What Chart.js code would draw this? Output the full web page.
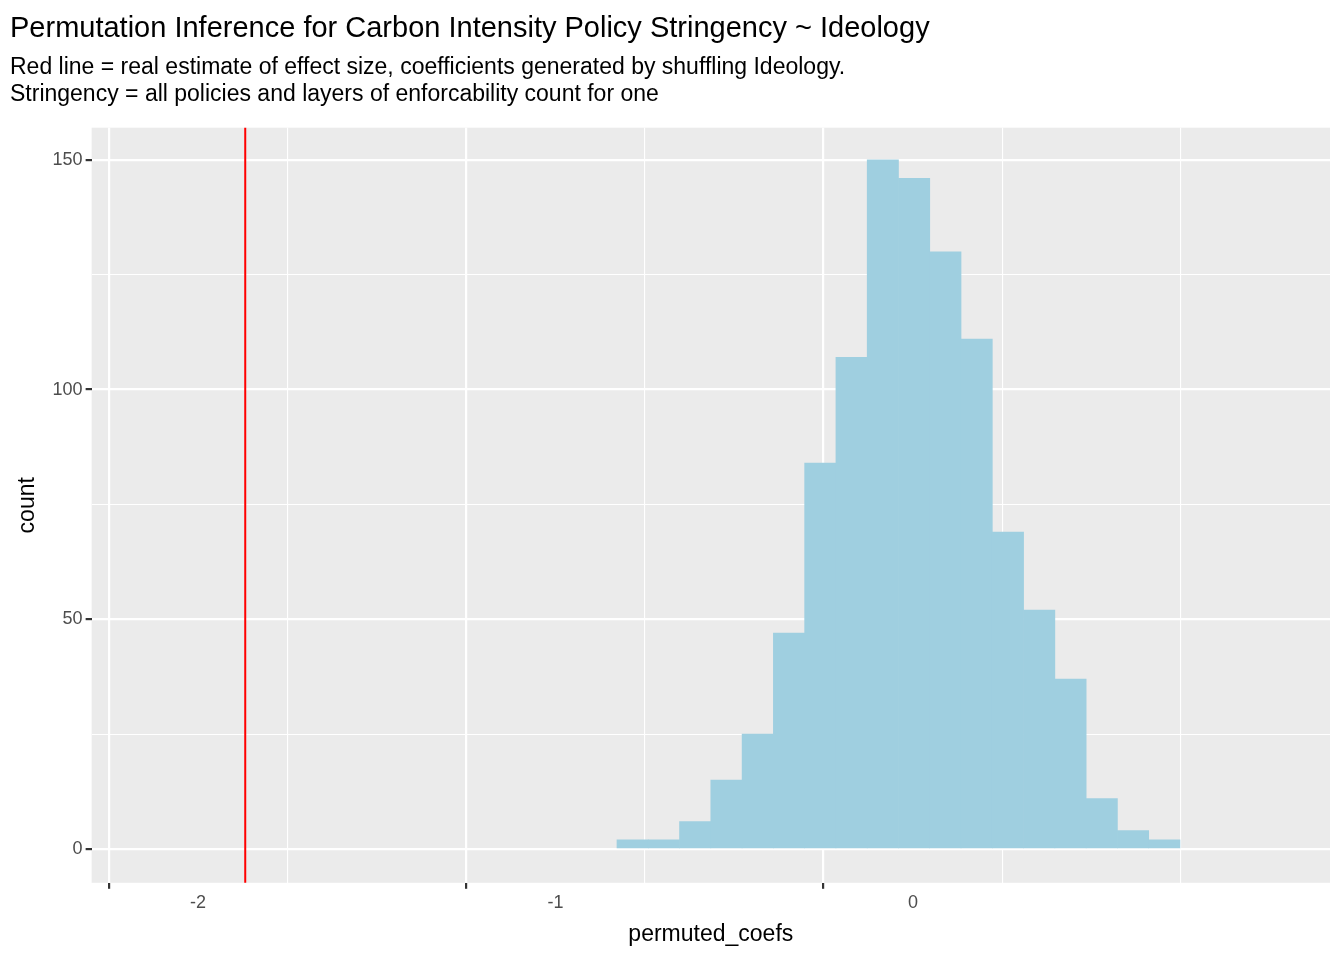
<!DOCTYPE html>
<html>
<head>
<meta charset="utf-8">
<script src="https://cdn.jsdelivr.net/npm/chart.js@4.4.1/dist/chart.umd.min.js"></script>
<style>
  html, body { margin: 0; padding: 0; background: #fff; }
  #wrap { width: 1344px; height: 960px; }
</style>
</head>
<body>
<div id="wrap"><canvas id="histChart" width="1344" height="960"></canvas></div>
<script>
// histogram of permuted coefficients (bin width ~0.0875)
const binStart = -0.828;
const binWidth = 0.0875;
const counts = [2, 2, 6, 15, 25, 47, 84, 107, 150, 146, 130, 111, 69, 52, 37, 11, 4, 2];
const realEstimate = -1.868;
const xTicks = [-2, -1, 0];
const yTicks = [0, 50, 100, 150];

const barData = counts.map((c, i) => ({ x: binStart + binWidth * (i + 0.5), y: c }));

const panelBg = {
  id: "panelBg",
  beforeDraw(chart) {
    const { ctx, chartArea } = chart;
    ctx.save();
    ctx.fillStyle = "#EBEBEB";
    ctx.fillRect(chartArea.left, chartArea.top, chartArea.right - chartArea.left, chartArea.bottom - chartArea.top);
    ctx.restore();
  },
};

const isMajor = (v, list) => list.some((t) => Math.abs(t - v) < 1e-6);
const tickMajor = (c, list) => c && c.tick && isMajor(c.tick.value, list);
const font = "Liberation Sans, Arial, sans-serif";

new Chart(document.getElementById("histChart"), {
  type: "bar",
  data: {
    datasets: [
      {
        type: "line",
        data: [{ x: realEstimate, y: -20 }, { x: realEstimate, y: 200 }],
        borderColor: "#FF0000",
        borderWidth: 2,
        pointRadius: 0,
        order: 0,
      },
      {
        data: barData,
        backgroundColor: "#9FCFE0",
        barPercentage: 1,
        categoryPercentage: 1,
        borderWidth: 0,
        order: 1,
      },
    ],
  },
  plugins: [panelBg],
  options: {
    responsive: false,
    devicePixelRatio: 1,
    animation: false,
    layout: { padding: { left: 10, right: 14, top: 4, bottom: 8 } },
    plugins: {
      legend: { display: false },
      tooltip: { enabled: false },
      title: {
        display: true,
        text: "Permutation Inference for Carbon Intensity Policy Stringency ~ Ideology",
        align: "start",
        color: "#000",
        font: { family: font, size: 29, weight: "normal" },
        padding: { top: 8, bottom: 8 },
      },
      subtitle: {
        display: true,
        text: [
          "Red line = real estimate of effect size, coefficients generated by shuffling Ideology.",
          "Stringency = all policies and layers of enforcability count for one",
        ],
        align: "start",
        color: "#000",
        font: { family: font, size: 23, lineHeight: 1.15 },
        padding: { bottom: 20 },
      },
    },
    scales: {
      x: {
        type: "linear",
        min: -2.009,
        max: 0.878,
        title: { display: true, text: "permuted_coefs", color: "#000", font: { family: font, size: 23 }, padding: { top: 4 } },
        afterBuildTicks: (axis) => {
          axis.ticks = [-2, -1.5, -1, -0.5, 0, 0.5].map((v) => ({ value: v }));
        },
        ticks: {
          color: "#4D4D4D",
          font: { family: font, size: 18 },
          maxRotation: 0,
          autoSkip: false,
          callback: (v) => (isMajor(v, xTicks) ? String(v) : ""),
        },
        grid: {
          color: "#FFFFFF",
          lineWidth: (c) => (tickMajor(c, xTicks) ? 2.2 : 1.1),
          tickColor: (c) => (tickMajor(c, xTicks) ? "#333333" : "rgba(0,0,0,0)"),
          tickLength: 6,
        },
        border: { display: false },
      },
      y: {
        min: -7.35,
        max: 157,
        title: { display: true, text: "count", color: "#000", font: { family: font, size: 23 }, padding: { bottom: 8 } },
        afterBuildTicks: (axis) => {
          axis.ticks = [0, 25, 50, 75, 100, 125, 150].map((v) => ({ value: v }));
        },
        ticks: {
          color: "#4D4D4D",
          font: { family: font, size: 18 },
          autoSkip: false,
          callback: (v) => (isMajor(v, yTicks) ? String(v) : ""),
        },
        grid: {
          color: "#FFFFFF",
          lineWidth: (c) => (tickMajor(c, yTicks) ? 2.2 : 1.1),
          tickColor: (c) => (tickMajor(c, yTicks) ? "#333333" : "rgba(0,0,0,0)"),
          tickLength: 6,
        },
        border: { display: false },
      },
    },
  },
});
</script>
</body>
</html>
